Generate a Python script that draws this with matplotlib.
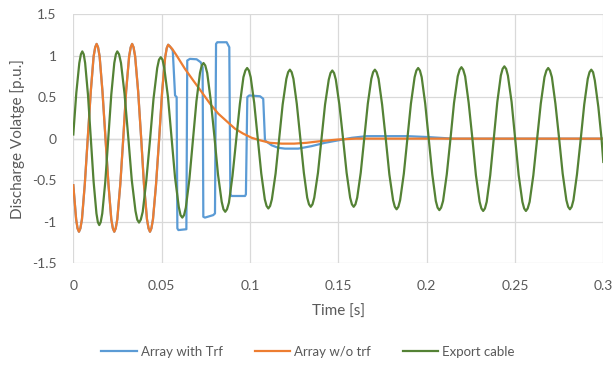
import matplotlib
matplotlib.use("Agg")
import matplotlib.pyplot as plt

plt.rcParams["font.family"] = ["Lato", "DejaVu Sans"]

# ── Data (time [s], voltage [p.u.]) ───────────────────────────────────────
# Common 50 Hz part shared by both array curves (blue sits under orange)
array_t = [0.0000, 0.0016,
           0.0024, 0.0032, 0.0040, 0.0049, 0.0065, 0.0082, 0.0099, 0.0115,
           0.0124, 0.0132, 0.0140, 0.0149, 0.0165, 0.0182, 0.0199, 0.0215,
           0.0224, 0.0232, 0.0240, 0.0249, 0.0266, 0.0283, 0.0299, 0.0316,
           0.0325, 0.0333, 0.0341, 0.0350, 0.0367, 0.0384, 0.0400, 0.0417,
           0.0426, 0.0434, 0.0442, 0.0451, 0.0468, 0.0486, 0.0503, 0.0520,
           0.0529, 0.0537]
array_v = [-0.56, -0.97,
           -1.08, -1.12, -1.08, -0.97, -0.55, 0.01, 0.57, 0.99,
           1.10, 1.14, 1.10, 0.99, 0.57, 0.01, -0.55, -0.97,
           -1.08, -1.12, -1.08, -0.97, -0.55, 0.01, 0.57, 0.99,
           1.10, 1.14, 1.10, 0.99, 0.57, 0.01, -0.55, -0.97,
           -1.08, -1.12, -1.08, -0.97, -0.56, 0.00, 0.57, 0.98,
           1.09, 1.13]

# Array with Trf, after the breaker opens
trf_t = [0.0547, 0.0563, 0.0576, 0.0585, 0.0589, 0.0595, 0.0640, 0.0645,
         0.0660, 0.0698, 0.0721, 0.0732, 0.0736, 0.0745, 0.0792, 0.0802,
         0.0808, 0.0815, 0.0868, 0.0883, 0.0889, 0.0896, 0.0972, 0.0977,
         0.0985, 0.0996, 0.1057, 0.1075, 0.1085, 0.1090, 0.1123, 0.1160,
         0.1198, 0.1273, 0.1349, 0.1424, 0.1500, 0.1576, 0.1660, 0.1890,
         0.2000, 0.2150, 0.3000]
trf_v = [1.11, 1.06, 0.52, 0.50, -1.08, -1.10, -1.09, 0.94,
         0.96, 0.955, 0.92, 0.86, -0.94, -0.95, -0.92, -0.90,
         1.14, 1.16, 1.16, 1.10, -0.67, -0.69, -0.69, -0.67,
         0.50, 0.52, 0.51, 0.48, -0.02, -0.03, -0.08, -0.11,
         -0.12, -0.12, -0.09, -0.05, -0.02, 0.01, 0.03, 0.03,
         0.02, 0.00, 0.00]

# Array w/o trf, decay after the breaker opens
notrf_t = [0.0547, 0.0560, 0.0585, 0.0632, 0.0679, 0.0727, 0.0774, 0.0821,
           0.0868, 0.0915, 0.0962, 0.1010, 0.1057, 0.1113, 0.1180, 0.1250,
           0.1320, 0.1400, 0.1500, 0.1600, 0.2000, 0.3000]
notrf_v = [1.11, 1.08, 1.00, 0.84, 0.70, 0.56, 0.42, 0.30,
           0.21, 0.12, 0.06, 0.01, -0.02, -0.05, -0.06, -0.06,
           -0.05, -0.03, -0.01, 0.00, 0.00, 0.00]

# Export cable
cable_t = [0.0000, 0.0017, 0.0034,
           0.0043, 0.0051, 0.0059, 0.0067, 0.0083, 0.0099, 0.0115, 0.0131,
           0.0139, 0.0147, 0.0155, 0.0164, 0.0181, 0.0198, 0.0215, 0.0232,
           0.0241, 0.0249, 0.0259, 0.0270, 0.0290, 0.0311, 0.0331, 0.0352,
           0.0362, 0.0372, 0.0382, 0.0393, 0.0413, 0.0434, 0.0454, 0.0475,
           0.0485, 0.0495, 0.0505, 0.0515, 0.0536, 0.0556, 0.0576, 0.0597,
           0.0607, 0.0617, 0.0627, 0.0637, 0.0657, 0.0677, 0.0697, 0.0717,
           0.0727, 0.0737, 0.0747, 0.0758, 0.0778, 0.0799, 0.0819, 0.0840,
           0.0850, 0.0860, 0.0870, 0.0881, 0.0901, 0.0922, 0.0943, 0.0963,
           0.0974, 0.0984, 0.0994, 0.1004, 0.1024, 0.1044, 0.1064, 0.1084,
           0.1094, 0.1104, 0.1114, 0.1124, 0.1145, 0.1165, 0.1185, 0.1206,
           0.1216, 0.1226, 0.1236, 0.1246, 0.1265, 0.1285, 0.1305, 0.1324,
           0.1334, 0.1344, 0.1354, 0.1364, 0.1385, 0.1405, 0.1425, 0.1446,
           0.1456, 0.1466, 0.1476, 0.1486, 0.1506, 0.1527, 0.1547, 0.1567,
           0.1577, 0.1587, 0.1597, 0.1607, 0.1627, 0.1647, 0.1667, 0.1687,
           0.1697, 0.1707, 0.1717, 0.1728, 0.1748, 0.1769, 0.1789, 0.1810,
           0.1820, 0.1830, 0.1840, 0.1850, 0.1871, 0.1891, 0.1911, 0.1932,
           0.1942, 0.1952, 0.1962, 0.1972, 0.1992, 0.2012, 0.2032, 0.2052,
           0.2062, 0.2072, 0.2082, 0.2093, 0.2114, 0.2135, 0.2155, 0.2176,
           0.2187, 0.2197, 0.2207, 0.2218, 0.2238, 0.2259, 0.2279, 0.2300,
           0.2310, 0.2320, 0.2330, 0.2340, 0.2360, 0.2380, 0.2400, 0.2420,
           0.2430, 0.2440, 0.2450, 0.2460, 0.2481, 0.2501, 0.2521, 0.2542,
           0.2552, 0.2562, 0.2572, 0.2583, 0.2604, 0.2625, 0.2646, 0.2667,
           0.2678, 0.2688, 0.2698, 0.2709, 0.2729, 0.2750, 0.2770, 0.2791,
           0.2801, 0.2811, 0.2821, 0.2831, 0.2851, 0.2872, 0.2892, 0.2912,
           0.2922, 0.2932, 0.2942, 0.2952, 0.2972, 0.2990, 0.3000]
cable_v = [0.05, 0.55, 0.91,
           1.015, 1.05, 1.015, 0.91, 0.53, 0.00, -0.52, -0.90,
           -1.005, -1.04, -1.005, -0.90, -0.52, 0.00, 0.53, 0.91,
           1.015, 1.05, 1.015, 0.91, 0.54, 0.02, -0.50, -0.87,
           -0.975, -1.01, -0.975, -0.88, -0.51, -0.02, 0.48, 0.85,
           0.95, 0.98, 0.95, 0.85, 0.50, 0.02, -0.47, -0.82,
           -0.92, -0.95, -0.92, -0.83, -0.49, -0.02, 0.45, 0.79,
           0.88, 0.91, 0.88, 0.79, 0.46, 0.02, -0.43, -0.76,
           -0.85, -0.88, -0.85, -0.77, -0.45, -0.02, 0.42, 0.74,
           0.82, 0.85, 0.82, 0.74, 0.43, 0.00, -0.42, -0.73,
           -0.81, -0.84, -0.81, -0.73, -0.42, 0.00, 0.41, 0.72,
           0.80, 0.83, 0.80, 0.72, 0.42, 0.00, -0.41, -0.71,
           -0.79, -0.82, -0.79, -0.71, -0.41, 0.00, 0.41, 0.71,
           0.79, 0.82, 0.79, 0.71, 0.41, 0.00, -0.41, -0.71,
           -0.79, -0.82, -0.79, -0.71, -0.41, 0.00, 0.42, 0.72,
           0.80, 0.83, 0.80, 0.72, 0.41, -0.01, -0.43, -0.74,
           -0.82, -0.85, -0.82, -0.74, -0.42, 0.00, 0.42, 0.74,
           0.82, 0.85, 0.82, 0.74, 0.42, 0.00, -0.43, -0.75,
           -0.83, -0.86, -0.83, -0.75, -0.43, 0.00, 0.43, 0.75,
           0.83, 0.86, 0.83, 0.75, 0.43, 0.00, -0.44, -0.76,
           -0.84, -0.87, -0.84, -0.76, -0.44, 0.00, 0.44, 0.76,
           0.84, 0.87, 0.84, 0.76, 0.44, 0.00, -0.44, -0.76,
           -0.84, -0.87, -0.84, -0.76, -0.44, -0.01, 0.42, 0.74,
           0.82, 0.85, 0.82, 0.74, 0.42, 0.00, -0.42, -0.74,
           -0.82, -0.85, -0.82, -0.74, -0.43, -0.01, 0.41, 0.72,
           0.80, 0.83, 0.80, 0.70, 0.38, 0.00, -0.28]

x_ticks = [0, 0.05, 0.1, 0.15, 0.2, 0.25, 0.3]
x_tick_labels = ["0", "0.05", "0.1", "0.15", "0.2", "0.25", "0.3"]
y_ticks = [-1.5, -1, -0.5, 0, 0.5, 1, 1.5]
y_tick_labels = ["-1.5", "-1", "-0.5", "0", "0.5", "1", "1.5"]

COLORS = {
    "trf":   "#5b9bd5",
    "notrf": "#ed7d31",
    "cable": "#548235",
}
TEXT_COLOR = "#595959"
LW = 1.6

fig = plt.figure(figsize=(6.16, 3.71), dpi=100)
ax = fig.add_axes([73.3 / 616, 1 - 263.3 / 371, 530 / 616, 249.3 / 371])

ax.plot(array_t + trf_t, array_v + trf_v, color=COLORS["trf"], lw=LW,
        zorder=3, label="Array with Trf")
ax.plot(array_t + notrf_t, array_v + notrf_v, color=COLORS["notrf"], lw=LW,
        zorder=4, label="Array w/o trf")
ax.plot(cable_t, cable_v, color=COLORS["cable"], lw=LW,
        zorder=5, label="Export cable")

ax.set_xlim(0, 0.3)
ax.set_ylim(-1.5, 1.5)
ax.set_xticks(x_ticks, x_tick_labels)
ax.set_yticks(y_ticks, y_tick_labels)
ax.grid(True, color="#d9d9d9", lw=0.9, zorder=0)
ax.axhline(0, color="#bfbfbf", lw=0.9, zorder=1)
for s in ax.spines.values():
    s.set_visible(False)
ax.tick_params(length=0, labelsize=10, colors=TEXT_COLOR)
ax.tick_params(axis="x", pad=12)
ax.tick_params(axis="y", pad=12)

ax.set_xlabel("Time [s]", fontsize=11, color=TEXT_COLOR)
ax.xaxis.set_label_coords(0.5, -0.165)
ax.set_ylabel("Discharge Volatge [p.u.]", fontsize=11, color=TEXT_COLOR)
ax.yaxis.set_label_coords(-0.092, 0.5)

leg = fig.legend(loc="center", bbox_to_anchor=(0.5, 1 - 352 / 371), ncol=3,
                 frameon=False, fontsize=9.5, handlelength=2.7,
                 columnspacing=2.4, handletextpad=0.3)
for t in leg.get_texts():
    t.set_color(TEXT_COLOR)

fig.savefig("out.png", dpi=100)
